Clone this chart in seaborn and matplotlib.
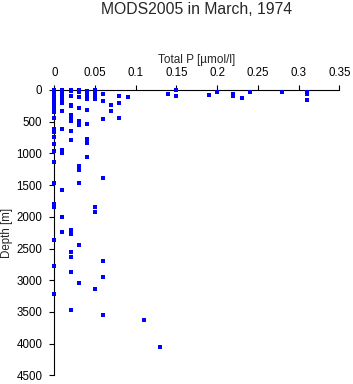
import matplotlib
matplotlib.use("Agg")
import matplotlib.pyplot as plt
import seaborn as sns
import pandas as pd

# Total P concentration columns [umol/l] and depths [m]
p_000 = [0, 10, 20, 30, 50, 75, 100, 125, 150, 175, 200, 250, 300, 350, 440,
         610, 660, 740, 850, 960, 1140, 1470, 1800, 1850, 2360, 2780, 3210]
p_001 = [0, 10, 20, 30, 50, 75, 100, 125, 150, 200, 330, 615, 945, 1000,
         1580, 2000, 2240]
p_002 = [0, 20, 89, 230, 260, 389, 465, 490, 652, 794, 2213, 2266, 2560,
         2639, 2870, 3465]
p_003 = [0, 30, 110, 290, 484, 552, 1194, 1257, 1472, 2440, 3039]
p_004 = [10, 80, 140, 310, 536, 778, 831, 1052]
p_005 = [0, 20, 75, 140, 1850, 1929, 3144]
p_006 = [63, 180, 465, 1383, 2702, 2954, 3554]
p_007 = [237, 328]
p_008 = [98, 203, 437]
p_009 = [112]
p_011 = [3633]
p_013 = [4058]
p_014 = [68]
p_015 = [5, 98]
p_019 = [84]
p_020 = [26]
p_022 = [60, 90]
p_023 = [126]
p_024 = [37]
p_028 = [37]
p_031 = [37, 68, 163]

levels = [0.00, 0.01, 0.02, 0.03, 0.04, 0.05, 0.06, 0.07, 0.08, 0.09,
          0.11, 0.13, 0.14, 0.15, 0.19, 0.20, 0.22, 0.23, 0.24, 0.28, 0.31]
depth_lists = [p_000, p_001, p_002, p_003, p_004, p_005, p_006, p_007, p_008,
               p_009, p_011, p_013, p_014, p_015, p_019, p_020, p_022, p_023,
               p_024, p_028, p_031]

x_ticks = [0, 0.05, 0.1, 0.15, 0.2, 0.25, 0.3, 0.35]
x_tick_labels = ["0", "0.05", "0.1", "0.15", "0.2", "0.25", "0.3", "0.35"]
y_ticks = [0, 500, 1000, 1500, 2000, 2500, 3000, 3500, 4000, 4500]
y_tick_labels = [str(v) for v in y_ticks]

rows = []
for lv, ds in zip(levels, depth_lists):
    for d in ds:
        rows.append({"totp": lv, "depth": d})
df = pd.DataFrame(rows)

sns.set_style("ticks")
plt.rcParams['font.family'] = ['Liberation Sans', 'DejaVu Sans']

fig = plt.figure(figsize=(3.53, 3.84), dpi=100)
ax = fig.add_axes([54.3 / 353, 1 - 375.3 / 384, 285 / 353, 285.3 / 384])

sns.scatterplot(data=df, x="totp", y="depth", marker="s", color="#0000ff",
                s=7, linewidth=0, ax=ax, legend=False, clip_on=False,
                zorder=5)

ax.set_xlim(0, 0.35)
ax.set_ylim(4500, 0)
ax.xaxis.set_ticks_position("top")
ax.xaxis.set_label_position("top")
ax.set_xticks(x_ticks)
ax.set_xticklabels(x_tick_labels)
ax.set_yticks(y_ticks)
ax.set_yticklabels(y_tick_labels)

for side in ["right", "bottom"]:
    ax.spines[side].set_visible(False)
for side in ["top", "left"]:
    ax.spines[side].set_visible(True)
    ax.spines[side].set_linewidth(0.8)
    ax.spines[side].set_color("black")
    ax.spines[side].set_zorder(2)

ax.tick_params(axis="both", direction="out", length=3.6, width=0.8,
               colors="black", labelsize=8.3)
ax.tick_params(axis="x", pad=4.5)
ax.tick_params(axis="y", pad=5.0)

ax.set_xlabel("Total P [µmol/l]", fontsize=8.5, labelpad=3)
ax.set_ylabel("Depth [m]", fontsize=8.3)
ax.yaxis.set_label_coords(-0.145, 0.5)
ax.set_facecolor("white")
ax.grid(False)

fig.text(196.8 / 353, 1 - 10 / 384, "MODS2005 in March, 1974", ha="center",
         va="center", fontsize=11.3)

fig.savefig("out.png", dpi=100, facecolor="white")
